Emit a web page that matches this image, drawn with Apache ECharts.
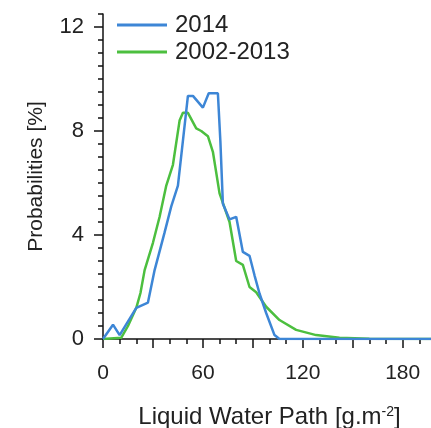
<!DOCTYPE html>
<html>
<head>
<meta charset="utf-8">
<style>
  html, body { margin: 0; padding: 0; background: #ffffff; }
  #chart { width: 431px; height: 428px; }
</style>
<script src="https://cdn.jsdelivr.net/npm/echarts@6/dist/echarts.min.js"></script>
</head>
<body>
<div id="chart"></div>
<script>
// Liquid water path distribution: 2014 versus the 2002-2013 climatology
const lwp2014  = [0, 6, 10, 20, 27, 31, 37, 41, 45, 51, 54, 60, 63.5, 69, 70.5, 72, 76, 80, 84, 88, 91, 94, 98, 103, 106, 200];
const prob2014 = [0, 0.55, 0.15, 1.2, 1.4, 2.65, 4.1, 5.1, 5.9, 9.35, 9.35, 8.9, 9.45, 9.45, 7.6, 5.2, 4.6, 4.7, 3.35, 3.2, 2.45, 1.75, 1.0, 0.15, 0, 0];

const lwpClim  = [0, 11, 15, 20, 22.5, 25, 30, 34, 38, 42, 46, 48, 51, 56, 59, 63, 66, 70, 76, 80, 84, 88, 92, 98, 106, 116, 128, 142, 160, 200];
const probClim = [0, 0.05, 0.5, 1.2, 1.77, 2.65, 3.7, 4.7, 5.9, 6.7, 8.4, 8.7, 8.7, 8.1, 8.0, 7.8, 7.2, 5.6, 4.5, 3.0, 2.85, 2.0, 1.8, 1.24, 0.73, 0.35, 0.15, 0.05, 0.01, 0];

const xLabelTicks = [0, 60, 120, 180];
const yLabelTicks = [0, 4, 8, 12];

const seriesNames = ['2014', '2002-2013'];
const blue = '#3d86d6';
const green = '#4cbf3f';
const font = 'Liberation Sans, Arial, sans-serif';

const zip = (xs, ys) => xs.map((x, i) => [x, ys[i]]);

const chart = echarts.init(document.getElementById('chart'), null, { renderer: 'canvas' });

const axisColor = '#111';

chart.setOption({
  animation: false,
  backgroundColor: '#ffffff',
  grid: { left: 103, top: 14, width: 333, height: 325, containLabel: false, outerBoundsMode: 'none' },
  legend: {
    data: seriesNames,
    orient: 'vertical',
    left: 112,
    top: 8,
    itemWidth: 50,
    itemHeight: 3,
    itemGap: 3,
    icon: 'rect',
    textStyle: { fontFamily: font, fontSize: 24, color: '#222', padding: [0, 0, 0, 3] }
  },
  xAxis: [
    {
      type: 'value', min: 0, max: 200, interval: 30, position: 'bottom',
      name: 'Liquid Water Path [g.m{sup|-2}]',
      nameLocation: 'middle', nameGap: 66,
      nameTextStyle: {
        fontFamily: font, fontSize: 24, color: '#222',
        rich: { sup: { fontFamily: font, fontSize: 14, color: '#222', verticalAlign: 'top', lineHeight: 16 } }
      },
      axisLine: { show: true, onZero: false, lineStyle: { color: axisColor, width: 1.5 } },
      axisTick: { show: true, length: 9, lineStyle: { color: axisColor, width: 1.5 } },
      axisLabel: {
        fontFamily: font, fontSize: 21, color: '#222', margin: 24,
        formatter: v => (xLabelTicks.includes(v) ? String(v) : '')
      },
      splitLine: { show: false }
    },
    {
      type: 'value', min: 0, max: 200, interval: 10, position: 'bottom', offset: 0,
      axisLine: { show: false },
      axisTick: { show: true, length: 5, lineStyle: { color: axisColor, width: 1.5 } },
      axisLabel: { show: false },
      splitLine: { show: false }
    }
  ],
  yAxis: [
    {
      type: 'value', min: 0, max: 12.5, interval: 4, position: 'left',
      name: 'Probabilities [%]',
      nameLocation: 'middle', nameGap: 56,
      nameTextStyle: { fontFamily: font, fontSize: 21, color: '#222' },
      axisLine: { show: true, onZero: false, lineStyle: { color: axisColor, width: 1.5 } },
      axisTick: { show: true, length: 9, customValues: yLabelTicks, lineStyle: { color: axisColor, width: 1.5 } },
      axisLabel: {
        fontFamily: font, fontSize: 22, color: '#222', margin: 19,
        customValues: yLabelTicks
      },
      splitLine: { show: false }
    },
    {
      type: 'value', min: 0, max: 12.5, interval: 0.5, position: 'left', offset: 0,
      axisLine: { show: false },
      axisTick: { show: true, length: 5, lineStyle: { color: axisColor, width: 1.5 } },
      axisLabel: { show: false },
      splitLine: { show: false }
    }
  ],
  series: [
    {
      name: '2002-2013', type: 'line', xAxisIndex: 0, yAxisIndex: 0,
      data: zip(lwpClim, probClim),
      showSymbol: false, symbol: 'none',
      lineStyle: { color: green, width: 2.5 }, itemStyle: { color: green }
    },
    {
      name: '2014', type: 'line', xAxisIndex: 0, yAxisIndex: 0,
      data: zip(lwp2014, prob2014),
      showSymbol: false, symbol: 'none',
      lineStyle: { color: blue, width: 2.5 }, itemStyle: { color: blue }
    }
  ]
});
</script>
</body>
</html>
